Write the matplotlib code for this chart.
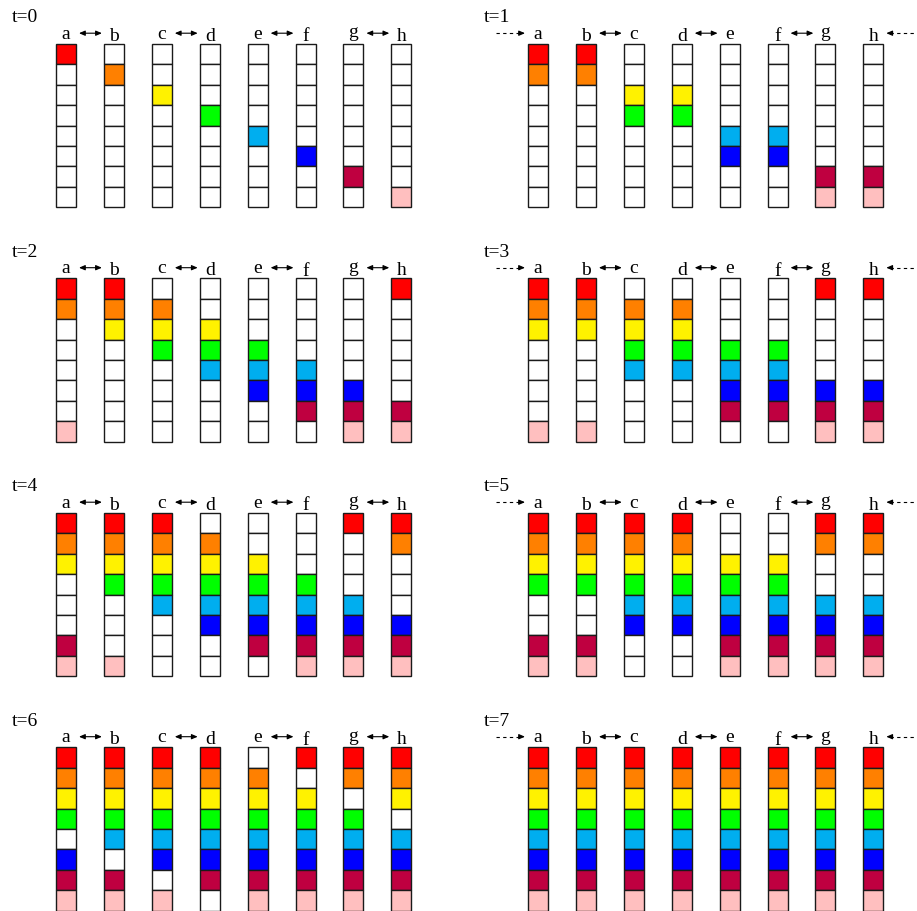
import matplotlib
matplotlib.use('Agg')
import matplotlib.pyplot as plt
from matplotlib.patches import Rectangle
from matplotlib.font_manager import FontProperties
from matplotlib.textpath import TextPath

# column state per time step, top cell first ('1' = filled)
states = {
    0: ['10000000', '01000000', '00100000', '00010000',
        '00001000', '00000100', '00000010', '00000001'],
    1: ['11000000', '11000000', '00110000', '00110000',
        '00001100', '00001100', '00000011', '00000011'],
    2: ['11000001', '11100000', '01110000', '00111000',
        '00011100', '00001110', '00000111', '10000011'],
    3: ['11100001', '11100001', '01111000', '01111000',
        '00011110', '00011110', '10000111', '10000111'],
    4: ['11100011', '11110001', '11111000', '01111100',
        '00111110', '00011111', '10001111', '11000111'],
    5: ['11110011', '11110011', '11111100', '11111100',
        '00111111', '00111111', '11001111', '11001111'],
    6: ['11110111', '11111011', '11111101', '11111110',
        '01111111', '10111111', '11011111', '11101111'],
    7: ['11111111'] * 8,
}
names = ['a', 'b', 'c', 'd', 'e', 'f', 'g', 'h']
colors = ['#FF0000', '#FF8000', '#FFF200', '#00FF00',
          '#00AEEF', '#0000FF', '#BF0040', '#FFBFBF']

W, H = 917, 912
pitch = 47.9      # column spacing
cw, ch = 20, 20.45
font = 'Liberation Serif'
lab_size = 14
t_size = 14

fig = plt.figure(figsize=(W / 100, H / 100), dpi=100)
ax = fig.add_axes([0, 0, 1, 1])
ax.set_xlim(0, W)
ax.set_ylim(H, 0)
ax.axis('off')

fp = FontProperties(family=font, size=lab_size)


def label(x, y, s):
    # centre the ink box of the glyph on y, like a tikz node
    ext = TextPath((0, 0), s, prop=fp).get_extents()
    mid = (ext.y0 + ext.y1) / 2 * 100 / 72
    ax.text(x, y + mid, s, ha='center', va='baseline',
            fontproperties=fp)


def arrow(x1, x2, y, style='<|-|>'):
    ax.annotate('', xy=(x2, y), xytext=(x1, y),
                arrowprops=dict(arrowstyle=style + ',head_length=0.35,head_width=0.15',
                                lw=0.8, color='black', shrinkA=0, shrinkB=0))


for t in range(8):
    col = t % 2
    row = t // 2
    x0 = 56 + col * 472
    y0 = 44.7 + row * 234.5
    ax.text(x0 - 44, y0 - 27, 't=%d' % t, ha='left', va='center',
            family=font, fontsize=t_size)
    centers = [x0 + k * pitch + cw / 2 for k in range(8)]
    ly = y0 - 10.5
    for k in range(8):
        for i in range(8):
            fill = colors[i] if states[t][k][i] == '1' else 'white'
            ax.add_patch(Rectangle((x0 + k * pitch, y0 + i * ch), cw, ch,
                                   facecolor=fill, edgecolor='#1a1a1a', lw=1.0))
        label(centers[k], ly, names[k])
    if t % 2 == 0:
        for k in (0, 2, 4, 6):
            arrow(centers[k] + 13, centers[k + 1] - 12, ly)
    else:
        for k in (1, 3, 5):
            arrow(centers[k] + 13, centers[k + 1] - 12, ly)
        # dashed wrap-around arrows
        ax.plot([centers[0] - 42, centers[0] - 17], [ly, ly], color='black',
                lw=0.8, dashes=(3, 3))
        arrow(centers[0] - 19, centers[0] - 13, ly, '-|>')
        ax.plot([centers[7] + 17, centers[7] + 44], [ly, ly], color='black',
                lw=0.8, dashes=(3, 3))
        arrow(centers[7] + 19, centers[7] + 13, ly, '-|>')

fig.savefig('out.png', dpi=100)
